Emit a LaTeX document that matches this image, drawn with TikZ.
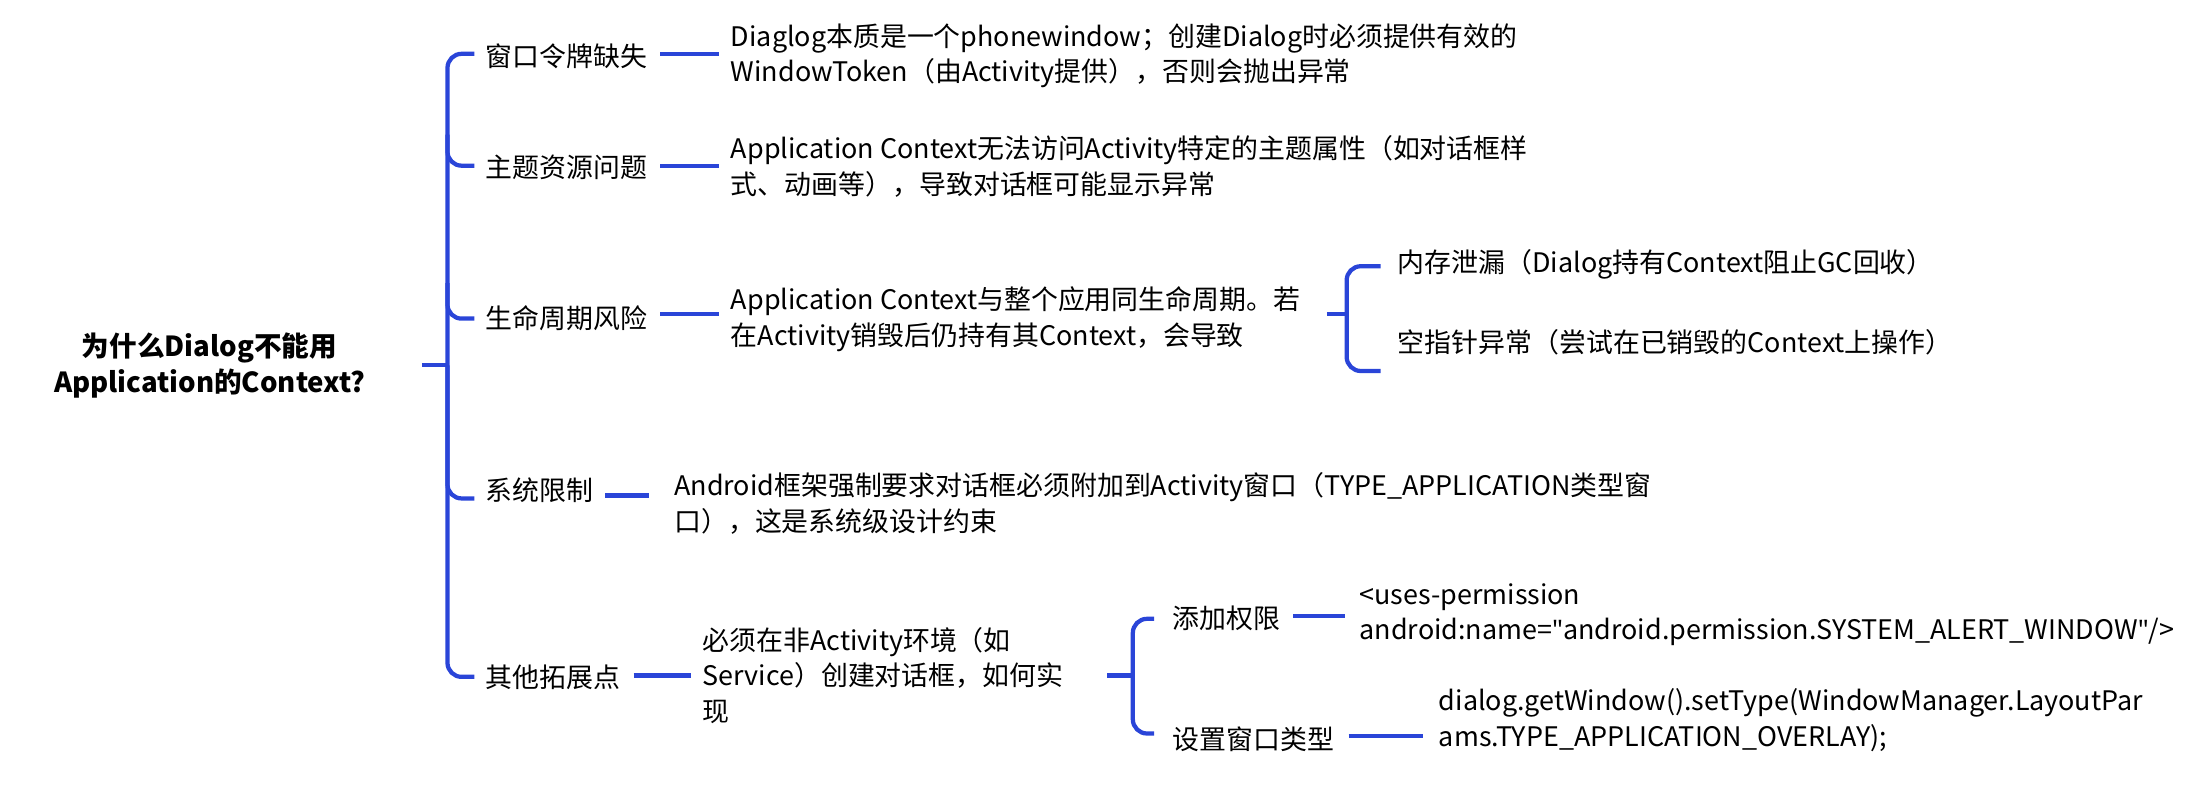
\documentclass[tikz,border=0pt]{standalone}
\usepackage{fontspec}
\setmainfont{Noto Sans CJK SC}
\newfontfamily\latinq{Noto Sans}
\newcommand{\sq}{{\latinq\symbol{34}}}
\begin{document}
\begin{tikzpicture}[x=1pt,y=-1pt,
  br/.style={draw=linkblue,line width=3pt,rounded corners=10pt},
  ln/.style={draw=linkblue,line width=3pt},
  lab/.style={anchor=west,inner sep=0pt,font=\fontsize{19}{25}\selectfont},
  txt/.style={anchor=west,inner sep=0pt,align=left,font=\fontsize{19}{25}\selectfont}]
\definecolor{linkblue}{HTML}{2A45D8}
\useasboundingbox (0,0) rectangle (1560,573.4);
\node[inner sep=0pt,align=center,font=\bfseries\fontsize{19.5}{25}\selectfont] (root) at (148,258) {为什么Dialog不能用\\Application的Context?};
\coordinate (rs) at (298,258);
\coordinate (rv) at (316,258);
\draw[ln] (rs) -- (rv);
\node[lab] (b1) at (343,40) {窗口令牌缺失};
\node[lab] (b2) at (343,118) {主题资源问题};
\node[lab] (b3) at (343,225) {生命周期风险};
\node[lab] (b4) at (343,346) {系统限制};
\node[lab] (b5) at (343,478) {其他拓展点};
\coordinate (e1) at (335,38);
\coordinate (e2) at (335,117);
\coordinate (e3) at (335,225);
\coordinate (e4) at (335,352);
\coordinate (e5) at (335,478);
\draw[br] (e1) -| (rv) |- (e5);
\draw[br] (rv |- 95,95) |- (e2);
\draw[br] (rv |- 200,200) |- (e3);
\draw[br] (rv) |- (e4);
\node[txt] (t1) at (516,39.5) {Diaglog本质是一个phonewindow；创建Dialog时必须提供有效的\\WindowToken（由Activity提供），否则会抛出异常};
\node[txt] (t2) at (516,117.5) {Application Context无法访问Activity特定的主题属性（如对话框样\\式、动画等），导致对话框可能显示异常};
\node[txt] (t3) at (516,225.5) {Application Context与整个应用同生命周期。若\\在Activity销毁后仍持有其Context，会导致};
\node[txt] (t4) at (476,355.5) {Android框架强制要求对话框必须附加到Activity窗口（TYPE\_APPLICATION类型窗\\口），这是系统级设计约束};
\node[txt] (t5) at (496,477) {必须在非Activity环境（如\\Service）创建对话框，如何实\\现};
\draw[ln] ([xshift=9pt]b1.east |- 0,38) -- ([xshift=-8pt]t1.west |- 0,38);
\draw[ln] ([xshift=9pt]b2.east |- 0,117) -- ([xshift=-8pt]t2.west |- 0,117);
\draw[ln] ([xshift=9pt]b3.east |- 0,222) -- ([xshift=-8pt]t3.west |- 0,222);
\draw[ln] ([xshift=8pt]b4.east |- 0,350) -- ([xshift=-18pt]t4.west |- 0,350);
\draw[ln] ([xshift=9pt]b5.east |- 0,477) -- ([xshift=-8pt]t5.west |- 0,477);
\coordinate (l3) at (937,222);
\coordinate (v3) at (951,222);
\draw[ln] (l3) -- (v3);
\node[txt] (s1) at (987,187) {内存泄漏（Dialog持有Context阻止GC回收）};
\node[txt] (s2) at (987,242) {空指针异常（尝试在已销毁的Context上操作）};
\draw[br] (975,188) -| (v3) |- (975,262);
\coordinate (l5) at (782,477);
\coordinate (v5) at (800,477);
\draw[ln] (l5) -- (v5);
\draw[br] (815,437) -| (v5) |- (815,518);
\node[lab] (c1) at (828,437) {添加权限};
\node[lab] (c2) at (828,522) {设置窗口类型};
\node[txt] (d1) at (960,434) {<uses-permission\\android:name=\sq android.permission.SYSTEM\_ALERT\_WINDOW\sq/>};
\node[txt] (d2) at (1016,508.5) {dialog.getWindow().setType(WindowManager.LayoutPar\\ams.TYPE\_APPLICATION\_OVERLAY);};
\draw[ln] ([xshift=9pt]c1.east |- 0,435) -- ([xshift=-10pt]d1.west |- 0,435);
\draw[ln] ([xshift=10pt]c2.east |- 0,520) -- ([xshift=-11pt]d2.west |- 0,520);
\end{tikzpicture}
\end{document}
